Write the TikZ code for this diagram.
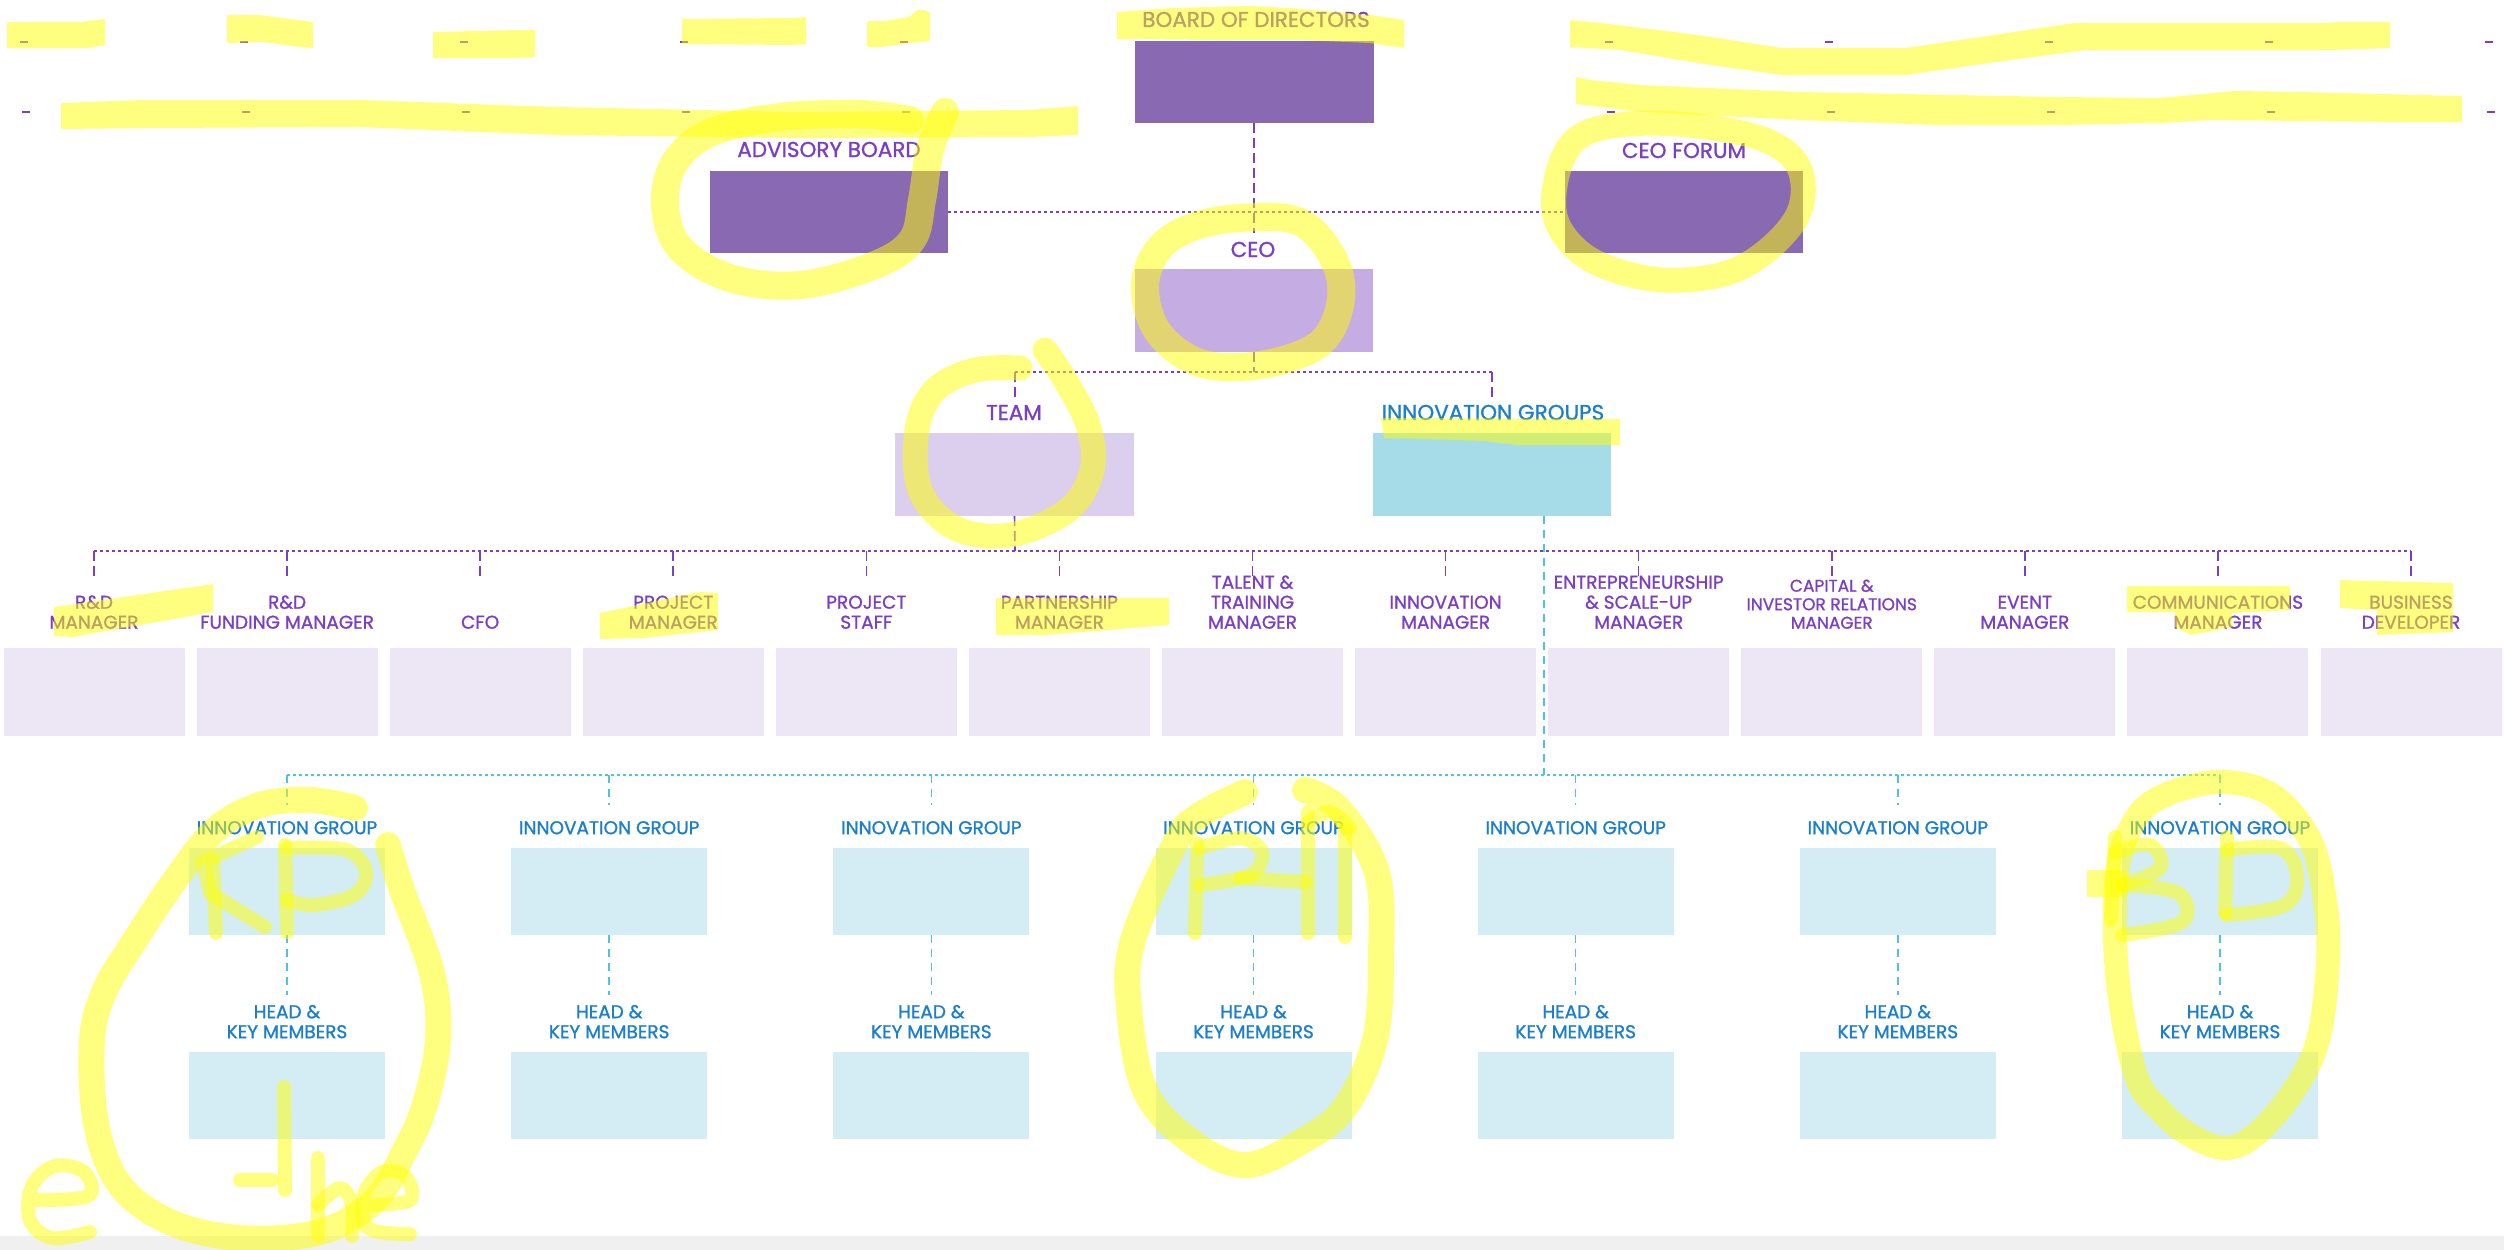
\documentclass[tikz,border=0pt]{standalone}
\usepackage{fontspec}
\setmainfont{Poppins}[FakeBold=1.1]
\usetikzlibrary{calc}
\definecolor{dkp}{HTML}{8A69B3}
\definecolor{ceoc}{HTML}{C5ACE3}
\definecolor{teamc}{HTML}{DCCFEE}
\definecolor{igc}{HTML}{A6DCE8}
\definecolor{rowc}{HTML}{EDE7F5}
\definecolor{igl}{HTML}{D4EDF4}
\definecolor{ptxt}{HTML}{7B3FC6}
\definecolor{btxt}{HTML}{1B7FCC}
\definecolor{cline}{HTML}{4EC3E6}
\definecolor{hly}{HTML}{FFFF00}
\definecolor{bandc}{HTML}{F0F0F0}
\newcommand{\lblA}{\fontsize{18.5}{20}\selectfont}
\newcommand{\lblB}{\fontsize{21.5}{24}\selectfont}
\newcommand{\lblC}{\fontsize{17}{18.5}\selectfont}
\begin{document}
\begin{tikzpicture}[x=1pt,y=-1pt,
  bx/.style={draw=none,inner sep=0pt,outer sep=0pt},
  toplbl/.style={inner sep=0pt,anchor=base,font=\lblB,text=ptxt},
  rowlbl/.style={inner sep=0pt,anchor=south,align=center,font=\lblA,text=ptxt},
  iglbl/.style={inner sep=0pt,anchor=south,align=center,font=\lblA,text=btxt},
  ph/.style={draw=ptxt,line width=2pt,dash pattern=on 3pt off 3pt},
  pv/.style={draw=ptxt,line width=1.6pt,dash pattern=on 10pt off 5pt},
  ch/.style={draw=cline,line width=2pt,dash pattern=on 3pt off 3pt},
  cv/.style={draw=cline,line width=1.5pt,dash pattern=on 8pt off 6pt},
  tinyd/.style={draw=ptxt,line width=2pt},
  hlf/.style={fill=hly,fill opacity=0.5},
  hls/.style={draw=hly,draw opacity=0.5,line width=28pt,line cap=round,line join=round},
  hlt/.style={draw=hly,draw opacity=0.5,line width=14pt,line cap=round,line join=round}
]
\useasboundingbox (0,0) rectangle (2504,1250);
\fill[white] (0,0) rectangle (2504,1250);
\fill[bandc] (0,1236) rectangle (2504,1250);

% tiny dashes at top
\foreach \x in {24,244,464,684,904,1609,1829,2049,2269,2489}{
  \draw[tinyd] (\x-4,42) -- (\x+4,42);
  \draw[tinyd] (\x-2,112) -- (\x+6,112);
}

% top level boxes
\node[bx,fill=dkp,minimum width=239pt,minimum height=82pt] (board) at (1254,82) {};
\node[bx,fill=dkp,minimum width=238pt,minimum height=82pt] (adv) at (829,212) {};
\node[bx,fill=dkp,minimum width=238pt,minimum height=82pt] (cf) at (1684,212) {};
\node[bx,fill=ceoc,minimum width=238pt,minimum height=83pt] (ceo) at (1254,310.5) {};
\node[bx,fill=teamc,minimum width=239pt,minimum height=83pt] (team) at (1014.5,474.5) {};
\node[bx,fill=igc,minimum width=238pt,minimum height=83pt] (ig) at (1492,474.5) {};

\node[toplbl] (tboard) at (1256,27) {BOARD OF DIRECTORS};
\node[toplbl] (tadv) at (829,157) {ADVISORY BOARD};
\node[toplbl] (tcf) at (1684,158) {CEO FORUM};
\node[toplbl] (tceo) at (1253,257) {CEO};
\node[toplbl] (tteam) at (1014,420) {TEAM};
\node[toplbl,text=btxt] (tig) at (1493,420) {INNOVATION GROUPS};

% connectors top
\coordinate (bv) at (1254,233);
\draw[pv] (board.south) -- (bv);
\draw[ph] (adv.east) -- (cf.west);
\coordinate (j1) at (1254,372);
\draw[pv] (ceo.south) -- (j1);
\coordinate (tj) at (1015,372);
\coordinate (ij) at (1492,372);
\coordinate (tj2) at (1015,397);
\coordinate (ij2) at (1492,397);
\draw[ph] (tj) -- (ij);
\draw[pv] (tj) -- (tj2);
\draw[pv] (ij) -- (ij2);
\coordinate (tl) at (1015,551);
\draw[pv] (team.south) -- (tl);
\coordinate (rl0) at (94,551);
\coordinate (rl1) at (2411,551);
\draw[ph] (rl0) -- (rl1);

% row 1 boxes
\foreach \i in {1,...,13}{
  \pgfmathsetmacro{\cx}{94+193.083*(\i-1)}
  \node[bx,fill=rowc,minimum width=181pt,minimum height=88pt] (r\i) at (\cx,692) {};
  \coordinate (d\i) at (\cx,551);
  \coordinate (e\i) at (\cx,577);
  \draw[pv] (d\i) -- (e\i);
}
\node[rowlbl] (l1) at (r1.center |- 0,629) {R\&D\\MANAGER};
\node[rowlbl] (l2) at (r2.center |- 0,629) {R\&D\\FUNDING MANAGER};
\node[rowlbl] (l3) at (r3.center |- 0,629) {CFO};
\node[rowlbl] (l4) at (r4.center |- 0,629) {PROJECT\\MANAGER};
\node[rowlbl] (l5) at (r5.center |- 0,629) {PROJECT\\STAFF};
\node[rowlbl] (l6) at (r6.center |- 0,629) {PARTNERSHIP\\MANAGER};
\node[rowlbl] (l7) at (r7.center |- 0,629) {TALENT \&\\TRAINING\\MANAGER};
\node[rowlbl] (l8) at (r8.center |- 0,629) {INNOVATION\\MANAGER};
\node[rowlbl] (l9) at (r9.center |- 0,629) {ENTREPRENEURSHIP\\\& SCALE-UP\\MANAGER};
\node[rowlbl,font=\lblC] (l10) at (r10.center |- 0,629) {CAPITAL \&\\INVESTOR RELATIONS\\MANAGER};
\node[rowlbl] (l11) at (r11.center |- 0,629) {EVENT\\MANAGER};
\node[rowlbl] (l12) at (r12.center |- 0,629) {COMMUNICATIONS\\MANAGER};
\node[rowlbl] (l13) at (r13.center |- 0,629) {BUSINESS\\DEVELOPER};

% innovation groups
\coordinate (igs) at (1544,516);
\coordinate (igj) at (1544,775);
\draw[cv] (igs) -- (igj);
\coordinate (gl0) at (287,775);
\coordinate (gl1) at (2220,775);
\draw[ch] (gl0) -- (gl1);
\foreach \j in {1,...,7}{
  \pgfmathsetmacro{\gx}{287+322.167*(\j-1)}
  \node[bx,fill=igl,minimum width=196pt,minimum height=87pt] (g\j) at (\gx,891.5) {};
  \node[bx,fill=igl,minimum width=196pt,minimum height=87pt] (h\j) at (\gx,1095.5) {};
  \coordinate (ga\j) at (\gx,775);
  \coordinate (gb\j) at (\gx,805);
  \coordinate (hc\j) at (\gx,995);
  \draw[cv] (ga\j) -- (gb\j);
  \draw[cv] (g\j.south) -- (hc\j);
  \node[iglbl] (gt\j) at (\gx,834.5) {INNOVATION GROUP};
  \node[iglbl] (ht\j) at (\gx,1038.5) {HEAD \&\\KEY MEMBERS};
}

% ===== yellow highlighter marks =====
\fill[hlf] (7,22) -- (80,22) -- (105,19) -- (105,45) -- (87,48) -- (7,48) -- cycle;
\fill[hlf] (227,15) -- (260,15) -- (313,22) -- (313,48) -- (300,47) -- (263,42) -- (227,43) -- cycle;
\fill[hlf] (433,32) -- (518,30) -- (535,30) -- (535,57) -- (518,58) -- (433,58) -- cycle;
\fill[hlf] (682,19) -- (792,18) -- (806,17) -- (806,44) -- (792,45) -- (682,44) -- cycle;
\fill[hlf] (867,21) -- (885,21) -- (909,17) -- (917,10) -- (925,10) -- (930,13) -- (930,41) -- (909,43) -- (881,47) -- (867,47) -- cycle;
\fill[hlf] (1117,12) -- (1172,8) -- (1250,6) -- (1290,8) -- (1370,15) -- (1404,20) -- (1404,48) -- (1370,43) -- (1300,40) -- (1212,40) -- (1117,39) -- cycle;
\fill[hlf] (61,103) -- (143,100) -- (359,100) -- (558,107) -- (797,112) -- (1028,110) -- (1078,106) -- (1078,135) -- (1028,137) -- (797,138) -- (558,135) -- (359,127) -- (150,128) -- (61,129) -- cycle;
\fill[hlf] (1570,20) -- (1610,24) -- (1698,35) -- (1782,48) -- (1906,48) -- (1960,40) -- (2074,23) -- (2322,23) -- (2340,22) -- (2390,22) -- (2390,48) -- (2330,50) -- (2086,50) -- (2010,60) -- (1906,75) -- (1782,75) -- (1698,63) -- (1620,50) -- (1570,47) -- cycle;
\fill[hlf] (1576,77) -- (1590,80) -- (1642,85) -- (1800,92) -- (2058,97) -- (2160,98) -- (2234,91) -- (2300,92) -- (2462,96) -- (2462,122) -- (2400,122) -- (2210,120) -- (2160,123) -- (2058,125) -- (1938,125) -- (1800,120) -- (1642,112) -- (1576,104) -- cycle;
\fill[hlf] (1381,418) -- (1620,419) -- (1620,445) -- (1518,445) -- (1484,441) -- (1430,439) -- (1384,438) -- cycle;
\fill[hlf] (54,607) -- (213,584) -- (213,612) -- (72,637) -- (54,636) -- cycle;
\fill[hlf] (600,613) -- (698,592) -- (718,593) -- (718,630) -- (643,638) -- (600,639) -- cycle;
\fill[hlf] (996,598) -- (1169,598) -- (1169,625) -- (1045,635) -- (996,635) -- cycle;
\fill[hlf] (2127,586) -- (2290,586) -- (2290,610) -- (2232,613) -- (2232,627) -- (2191,635) -- (2175,627) -- (2175,612) -- (2127,612) -- cycle;
\fill[hlf] (2340,580) -- (2453,583) -- (2453,632) -- (2377,635) -- (2377,610) -- (2340,608) -- cycle;
% loops
\draw[hls] plot[smooth,tension=0.6] coordinates {(945,112) (930,150) (922,200) (912,240) (875,265) (800,285) (730,278) (680,248) (665,205) (675,162) (712,132) (780,117) (860,114) (910,120)};
\draw[hls] plot[smooth cycle,tension=0.6] coordinates {(1190,228) (1240,218) (1300,222) (1335,262) (1340,305) (1318,345) (1260,365) (1200,363) (1158,332) (1145,287) (1158,250)};
\draw[hls,line width=25pt] plot[smooth cycle,tension=0.6] coordinates {(1618,125) (1690,125) (1765,140) (1800,170) (1795,220) (1740,268) (1665,280) (1595,262) (1558,225) (1556,180) (1575,140)};
\draw[hls,line width=25pt] plot[smooth,tension=0.6] coordinates {(1045,350) (1065,380) (1088,425) (1092,470) (1068,510) (1010,535) (955,528) (920,490) (917,430) (935,390) (975,370) (1020,368)};
% bottom loop 1 with letters
\draw[hls,line width=26pt] plot[smooth,tension=0.6] coordinates {(388,845) (402,890) (432,973) (438,1040) (424,1107) (405,1150) (375,1200) (320,1232) (240,1238) (170,1222) (120,1185) (96,1123) (92,1040) (105,990) (135,940) (175,880) (215,830) (260,805) (310,800) (355,808)};
\draw[hlt] (213,860) -- (216,933);
\draw[hlt] (257,837) -- (203,862) -- (210,893) -- (265,927);
\draw[hlt] (285,845) -- (287,932);
\draw[hlt] plot[smooth,tension=0.6] coordinates {(287,848) (346,850) (366,872) (354,895) (313,905) (287,900)};
\draw[hlt] (284,1087) -- (285,1190);
\draw[hlt] plot[smooth,tension=0.6] coordinates {(30,1200) (88,1196) (84,1172) (55,1166) (32,1186) (30,1220) (52,1238) (90,1232)};
\draw[hlt] (240,1180) -- (272,1180);
\draw[hlt] (318,1158) -- (318,1236);
\draw[hlt] plot[smooth,tension=0.6] coordinates {(318,1205) (340,1188) (352,1205) (352,1236)};
\draw[hlt] plot[smooth,tension=0.6] coordinates {(368,1205) (410,1200) (405,1176) (382,1172) (364,1195) (368,1228) (410,1234)};
% bottom loop 2 with letters
\draw[hls,line width=26pt] plot[smooth,tension=0.6] coordinates {(1245,792) (1200,815) (1177,840) (1133,940) (1129,1007) (1145,1090) (1189,1140) (1245,1165) (1304,1140) (1345,1107) (1375,1040) (1381,957) (1377,873) (1340,810) (1305,790)};
\draw[hlt] (1197,843) -- (1195,933);
\draw[hlt] plot[smooth,tension=0.6] coordinates {(1200,848) (1240,838) (1262,852) (1250,875) (1200,885)};
\draw[hlt] (1240,878) -- (1305,882);
\draw[hlt] (1308,812) -- (1308,933);
\draw[hlt] (1345,830) -- (1345,937);
\draw[hlt] plot[smooth,tension=0.6] coordinates {(1308,822) (1330,812) (1350,828)};
% bottom loop 3 with letters
\draw[hls,line width=24pt] plot[smooth cycle,tension=0.6] coordinates {(2220,782) (2272,795) (2310,840) (2325,900) (2328,960) (2318,1040) (2292,1093) (2255,1135) (2225,1148) (2190,1135) (2160,1110) (2135,1073) (2117,973) (2117,873) (2135,820) (2165,795)};
\fill[hlf] (2087,870) rectangle (2127,897);
\draw[hlt] (2115,837) -- (2111,920);
\draw[hlt] plot[smooth,tension=0.6] coordinates {(2115,852) (2150,845) (2160,868) (2122,885)};
\draw[hlt] plot[smooth,tension=0.6] coordinates {(2122,885) (2178,893) (2182,922) (2122,935)};
\draw[hlt] (2227,837) -- (2225,913);
\draw[hlt] plot[smooth,tension=0.6] coordinates {(2227,850) (2280,848) (2297,875) (2285,905) (2227,915)};
\end{tikzpicture}
\end{document}
